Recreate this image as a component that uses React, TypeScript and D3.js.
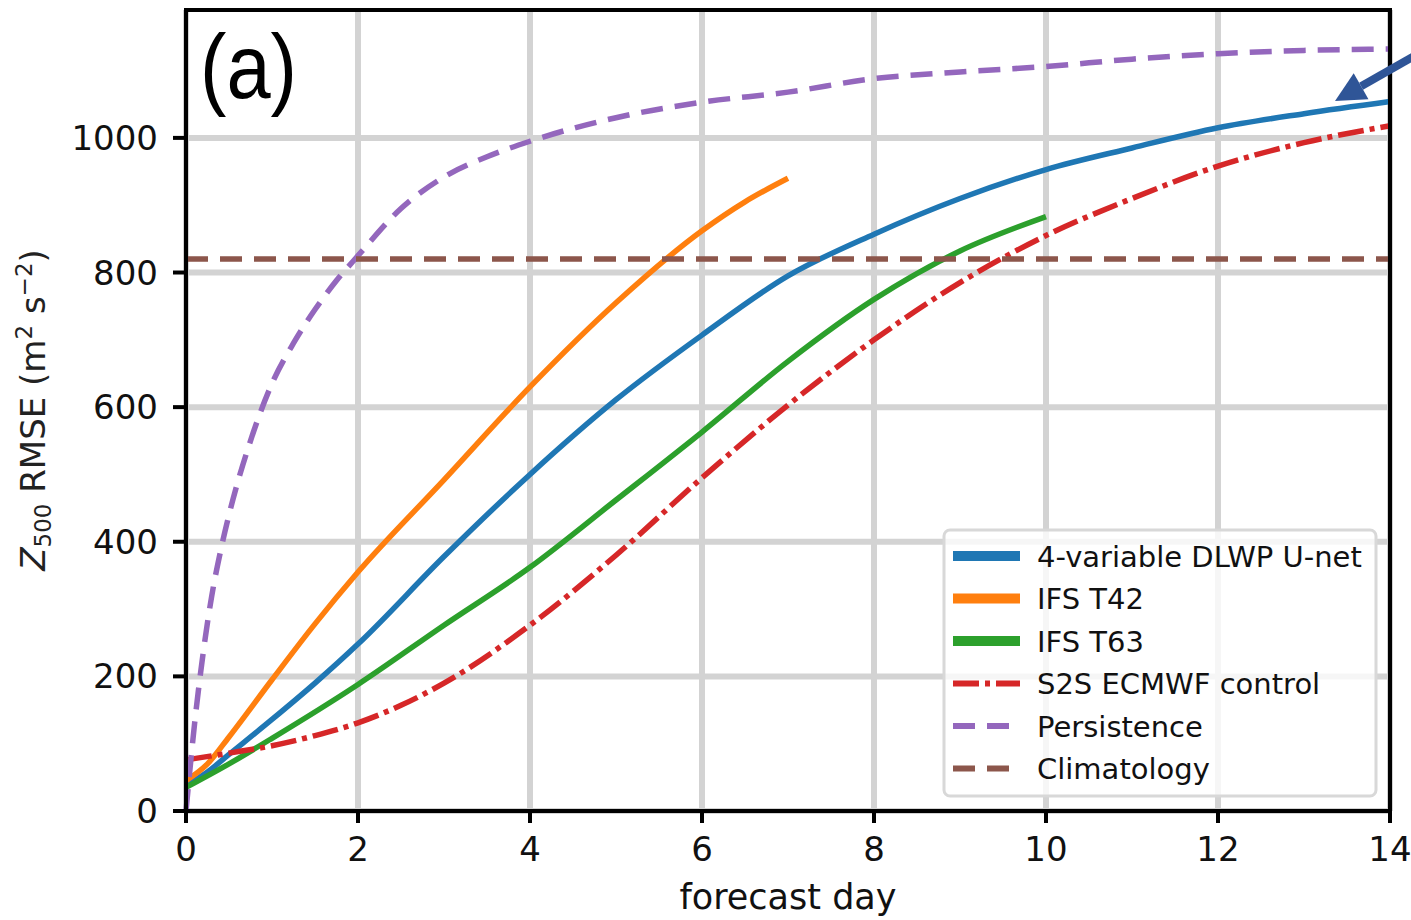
import React from "react";
import * as d3 from "d3";

// forecast days and RMSE values (m^2 s^-2)
const dlwpDays = [0, 0.25, 0.5, 1, 1.5, 2, 3, 4, 5, 6, 7, 8, 9, 10, 11, 12, 13, 14];
const dlwpRmse = [38, 58, 84, 136, 190, 248, 378, 500, 611, 707, 795, 857, 910, 953, 985, 1015, 1036, 1054];

const t42Days = [0, 0.25, 0.5, 1, 1.5, 2, 3, 4, 5, 6, 6.5, 7];
const t42Rmse = [45, 70, 110, 195, 278, 355, 492, 630, 755, 862, 905, 940];

const t63Days = [0, 0.5, 1, 2, 3, 4, 5, 6, 7, 8, 9, 10];
const t63Rmse = [35, 70, 108, 188, 276, 362, 462, 563, 668, 760, 832, 883];

const s2sDays = [0, 0.5, 1, 1.5, 2, 2.5, 3, 4, 5, 6, 7, 8, 9, 10, 11, 12, 13, 14];
const s2sRmse = [76, 86, 97, 112, 131, 157, 190, 276, 380, 495, 603, 700, 785, 855, 910, 958, 993, 1018];

const persDays = [0, 0.1, 0.2, 0.3, 0.4, 0.5, 0.75, 1, 1.25, 1.5, 1.75, 2, 2.5, 3, 3.5, 4, 5, 6, 7, 8, 9, 10, 11, 12, 13, 14];
const persRmse = [0, 130, 235, 320, 385, 440, 550, 635, 695, 745, 788, 825, 895, 942, 972, 995, 1030, 1053, 1068, 1088, 1098, 1106, 1117, 1125, 1130, 1132];

const climDays = [0, 14];
const climRmse = [820, 820];

const xTicks = [0, 2, 4, 6, 8, 10, 12, 14];
const yTicks = [0, 200, 400, 600, 800, 1000];

const seriesNames = ["4-variable DLWP U-net", "IFS T42", "IFS T63", "S2S ECMWF control", "Persistence", "Climatology"];
const seriesColors = ["#1f77b4", "#ff7f0e", "#2ca02c", "#d62728", "#9467bd", "#8c564b"];
const seriesDash = [null, null, null, "26,6,5,6", "22,12", "22,12"];

const W = 1411;
const H = 920;
const left = 186, right = 1390, top = 10, bottom = 811;

export default function App() {
  const x = d3.scaleLinear().domain([0, 14]).range([left, right]);
  const y = d3.scaleLinear().domain([0, 1190]).range([bottom, top]);

  const allX = [dlwpDays, t42Days, t63Days, s2sDays, persDays, climDays];
  const allY = [dlwpRmse, t42Rmse, t63Rmse, s2sRmse, persRmse, climRmse];

  const line = d3.line<number[]>()
    .x(d => x(d[0]))
    .y(d => y(d[1]))
    .curve(d3.curveMonotoneX);

  const font = "DejaVu Sans";
  const legX = 944, legY = 530, legW = 432, legH = 266;
  const rowY = (i: number) => 556 + i * 42.5;

  // arrow annotation
  const tail = [1425, 50], tip = [1335, 101];
  const dx = tail[0] - tip[0], dy = tail[1] - tip[1];
  const len = Math.hypot(dx, dy);
  const ux = dx / len, uy = dy / len;
  const hl = 30, hw = 15;
  const bx = tip[0] + ux * hl, by = tip[1] + uy * hl;
  const head = [
    [tip[0], tip[1]],
    [bx - uy * hw, by + ux * hw],
    [bx + uy * hw, by - ux * hw],
  ];

  return (
    <svg width={W} height={H} style={{ position: "absolute", left: 0, top: 0, background: "#fff" }} fontFamily={font}>
      {/* grid */}
      <g stroke="#d3d3d3" strokeWidth={6}>
        {xTicks.map(t => <line key={"gx" + t} x1={x(t)} x2={x(t)} y1={top} y2={bottom} />)}
        {yTicks.map(t => <line key={"gy" + t} x1={left} x2={right} y1={y(t)} y2={y(t)} />)}
      </g>

      {/* lines */}
      <g fill="none" strokeLinecap="butt">
        {allX.map((xs, i) => (
          <path
            key={seriesNames[i]}
            d={line(xs.map((v, j) => [v, allY[i][j]])) || ""}
            stroke={seriesColors[i]}
            strokeWidth={5.5}
            strokeDasharray={seriesDash[i] || undefined}
          />
        ))}
      </g>

      {/* spines */}
      <rect x={left} y={top} width={right - left} height={bottom - top} fill="none" stroke="#000" strokeWidth={4} />

      {/* ticks */}
      <g stroke="#000" strokeWidth={4}>
        {xTicks.map(t => <line key={"tx" + t} x1={x(t)} x2={x(t)} y1={bottom} y2={bottom + 12} />)}
        {yTicks.map(t => <line key={"ty" + t} x1={left - 13} x2={left} y1={y(t)} y2={y(t)} />)}
      </g>
      <g fontSize={34} fill="#111" textAnchor="middle">
        {xTicks.map(t => <text key={"lx" + t} x={x(t)} y={861}>{t}</text>)}
      </g>
      <g fontSize={34} fill="#111" textAnchor="end">
        {yTicks.map(t => <text key={"ly" + t} x={158} y={y(t) + 12}>{t}</text>)}
      </g>

      <text x={(left + right) / 2} y={909} fontSize={35} textAnchor="middle" fill="#111">forecast day</text>
      <text transform="translate(45,410) rotate(-90)" fontSize={34} textAnchor="middle" fill="#222">
        <tspan fontStyle="italic">Z</tspan>
        <tspan fontSize={23} dy={6}>500</tspan>
        <tspan dy={-6}> RMSE (m</tspan>
        <tspan fontSize={23} dy={-13}>2</tspan>
        <tspan dy={13}> s</tspan>
        <tspan fontSize={23} dy={-13}>−2</tspan>
        <tspan dy={13}>)</tspan>
      </text>

      <text x={200} y={98} fontSize={90} fontFamily="Liberation Sans" textLength={97} lengthAdjust="spacingAndGlyphs" fill="#000">(a)</text>

      {/* legend */}
      <rect x={legX} y={legY} width={legW} height={legH} rx={6} fill="#fff" fillOpacity={0.8} stroke="#d8d8d8" strokeWidth={3} />
      {seriesNames.map((n, i) => (
        <g key={"leg" + i}>
          <line x1={953} x2={1020} y1={rowY(i)} y2={rowY(i)} stroke={seriesColors[i]} strokeWidth={i < 3 ? 10 : 6}
            strokeDasharray={seriesDash[i] || undefined} />
          <text x={1037} y={rowY(i) + 10.5} fontSize={29} fill="#111">{n}</text>
        </g>
      ))}

      {/* arrow */}
      <line x1={tail[0]} y1={tail[1]} x2={bx} y2={by} stroke="#2f5597" strokeWidth={8} />
      <polygon points={head.map(p => p.join(",")).join(" ")} fill="#2f5597" />
    </svg>
  );
}
